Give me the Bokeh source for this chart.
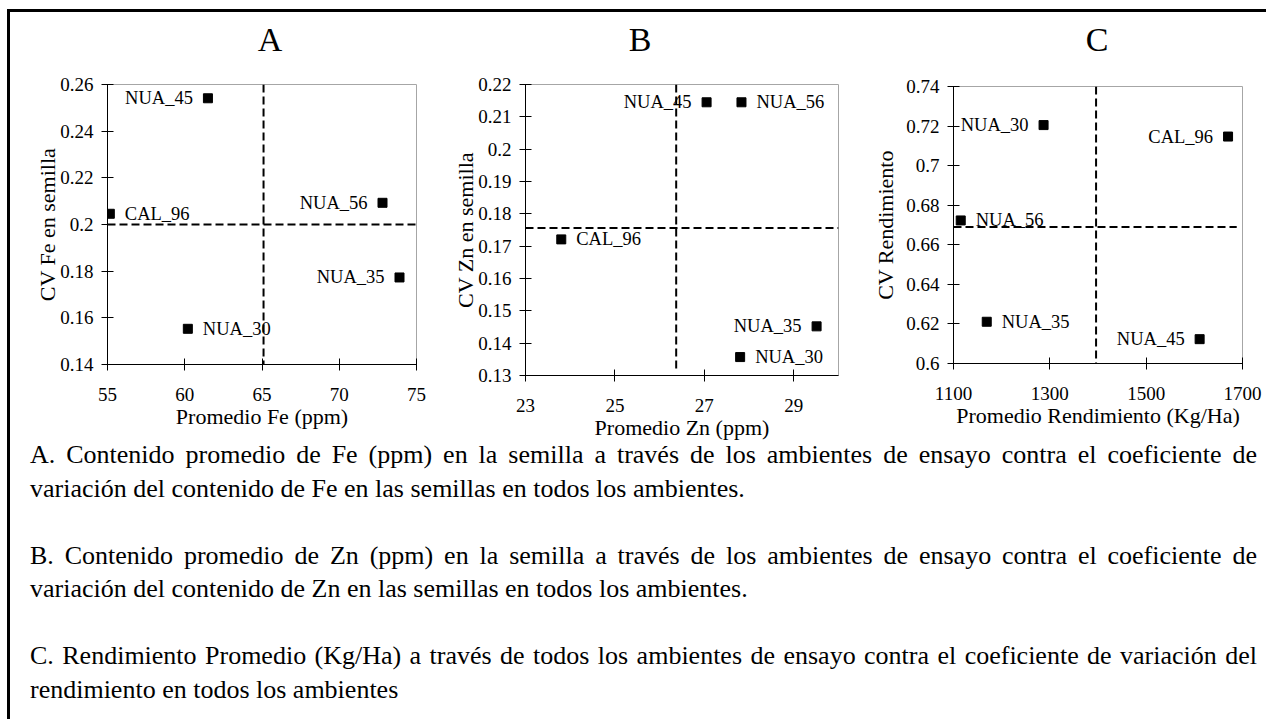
from bokeh.plotting import figure
from bokeh.models import Range1d, FixedTicker, Div, Spacer, ColumnDataSource
from bokeh.layouts import row, column
from bokeh.core.properties import value
from bokeh.embed import file_html
from bokeh.resources import INLINE

# ---- Panel A: hierro en semilla ----
genotipos_a = ["NUA_45", "CAL_96", "NUA_56", "NUA_35", "NUA_30"]
fe_promedio = [61.5, 55.15, 72.8, 73.9, 60.2]
fe_cv = [0.2541, 0.2046, 0.2093, 0.1773, 0.1553]
fe_ref_x = 65.1
fe_ref_y = 0.200
fe_xticks = [55, 60, 65, 70, 75]
fe_xlabels = ["55", "60", "65", "70", "75"]
fe_yticks = [0.14, 0.16, 0.18, 0.2, 0.22, 0.24, 0.26]
fe_ylabels = ["0.14", "0.16", "0.18", "0.2", "0.22", "0.24", "0.26"]

# ---- Panel B: zinc en semilla ----
genotipos_b = ["NUA_45", "NUA_56", "CAL_96", "NUA_35", "NUA_30"]
zn_promedio = [27.05, 27.83, 23.8, 29.51, 27.8]
zn_cv = [0.2145, 0.2145, 0.1721, 0.1452, 0.1357]
zn_ref_x = 26.37
zn_ref_y = 0.1756
zn_xticks = [23, 25, 27, 29]
zn_xlabels = ["23", "25", "27", "29"]
zn_yticks = [0.13, 0.14, 0.15, 0.16, 0.17, 0.18, 0.19, 0.2, 0.21, 0.22]
zn_ylabels = ["0.13", "0.14", "0.15", "0.16", "0.17", "0.18", "0.19", "0.2", "0.21", "0.22"]

# ---- Panel C: rendimiento ----
genotipos_c = ["NUA_30", "CAL_96", "NUA_56", "NUA_35", "NUA_45"]
rend_promedio = [1287, 1670, 1115, 1169, 1611]
rend_cv = [0.7205, 0.7147, 0.6723, 0.6211, 0.6123]
rend_ref_x = 1396
rend_ref_y = 0.669
rend_xticks = [1100, 1300, 1500, 1700]
rend_xlabels = ["1100", "1300", "1500", "1700"]
rend_yticks = [0.6, 0.62, 0.64, 0.66, 0.68, 0.7, 0.72, 0.74]
rend_ylabels = ["0.6", "0.62", "0.64", "0.66", "0.68", "0.7", "0.72", "0.74"]

# which side of its marker each label sits on
lado_a = ["left", "right", "left", "left", "right"]
lado_b = ["left", "right", "right", "left", "right"]
lado_c = ["left", "left", "right", "right", "left"]

letras = ["A", "B", "C"]

leyendas = [
    "A. Contenido promedio de Fe (ppm) en la semilla a través de los ambientes de ensayo "
    "contra el coeficiente de variación del contenido de Fe en las semillas en todos los ambientes.",
    "B. Contenido promedio de Zn (ppm) en la semilla a través de los ambientes de ensayo "
    "contra el coeficiente de variación del contenido de Zn en las semillas en todos los ambientes.",
    "C. Rendimiento Promedio (Kg/Ha) a través de todos los ambientes de ensayo contra el "
    "coeficiente de variación del rendimiento en todos los ambientes",
]

SERIF = "Liberation Serif"
HEADER_H = 60      # strip holding the panel letters
FIG_H = 400        # panels run under the caption block a little
CAPTION_LIFT = 36  # caption starts this many px above the panels' bottom edge


def panel(xs, ys, names, sides, xr, yr, xticks, xlabels,
          yticks, ylabels, ref_x, ref_y, vline_y0, hline_x1, xtitle, ytitle,
          width, borders, ylabel_standoff):
    left, right, top, bottom = borders
    p = figure(width=width, height=FIG_H, x_range=Range1d(*xr), y_range=Range1d(*yr),
               title=None, output_backend="svg", toolbar_location=None,
               min_border_left=left, min_border_right=right,
               min_border_top=top, min_border_bottom=bottom, margin=0,
               frame_align=False)

    p.grid.visible = False
    p.outline_line_color = "#a6a6a6"
    p.outline_line_width = 1
    p.background_fill_color = "white"
    p.border_fill_color = None

    p.xaxis.ticker = FixedTicker(ticks=xticks)
    p.xaxis.major_label_overrides = dict(zip(xticks, xlabels))
    p.yaxis.ticker = FixedTicker(ticks=yticks)
    p.yaxis.major_label_overrides = dict(zip(yticks, ylabels))
    p.xaxis.axis_label = xtitle
    p.yaxis.axis_label = ytitle
    for ax in (p.xaxis, p.yaxis):
        ax.axis_line_color = "black"
        ax.major_tick_line_color = "black"
        ax.major_tick_in = 6
        ax.major_tick_out = 6
        ax.minor_tick_line_color = None
        ax.major_label_text_font = SERIF
        ax.major_label_text_font_size = "19px"
        ax.major_label_text_color = "black"
        ax.axis_label_text_font = SERIF
        ax.axis_label_text_font_size = "22px"
        ax.axis_label_text_font_style = "normal"
        ax.axis_label_text_color = "black"
    p.xaxis.major_label_standoff = 17
    p.xaxis.axis_label_standoff = 0
    p.yaxis.major_label_standoff = 8
    p.yaxis.axis_label_standoff = ylabel_standoff

    # reference (average) lines
    p.line([ref_x, ref_x], [yr[1], vline_y0], line_color="black", line_width=2,
           line_dash="8 4")
    p.line([xr[0], hline_x1], [ref_y, ref_y], line_color="black", line_width=2,
           line_dash="8 4")

    p.scatter(xs, ys, marker="square", size=9, color="black")

    for side, off in (("left", -15), ("right", 15)):
        idx = [i for i, s in enumerate(sides) if s == side]
        src = ColumnDataSource(dict(x=[xs[i] for i in idx], y=[ys[i] for i in idx],
                                    t=[names[i] for i in idx]))
        p.text("x", "y", text="t", source=src, x_offset=off,
               text_align="right" if side == "left" else "left",
               text_baseline="middle", text_font=value(SERIF),
               text_font_size="18.5px", text_color="black")
    return p


pa = panel(fe_promedio, fe_cv, genotipos_a, lado_a, (55, 75), (0.14, 0.26),
           fe_xticks, fe_xlabels, fe_yticks, fe_ylabels, fe_ref_x, fe_ref_y,
           0.139, 75, "Promedio Fe (ppm)", "CV Fe en semilla",
           435, (97, 29, 12, FIG_H - 280 - 12), -3)
pb = panel(zn_promedio, zn_cv, genotipos_b, lado_b, (23, 30), (0.13, 0.22),
           zn_xticks, zn_xlabels, zn_yticks, zn_ylabels, zn_ref_x, zn_ref_y,
           0.1315, 30, "Promedio Zn (ppm)", "CV Zn en semilla",
           413, (80, 20, 12, FIG_H - 291 - 12), -3)
pc = panel(rend_promedio, rend_cv, genotipos_c, lado_c, (1100, 1700), (0.6, 0.74),
           rend_xticks, rend_xlabels, rend_yticks, rend_ylabels, rend_ref_x, rend_ref_y,
           0.6, 1688, "Promedio Rendimiento (Kg/Ha)", "CV Rendimiento",
           408, (95, 24, 14, FIG_H - 277 - 14), 5)

# panel letters, centred over each chart
letter_centres = [260, 630, 1087]
spans = "".join(
    f'<span style="position:absolute;left:{cx}px;top:11px;transform:translateX(-50%);'
    f'line-height:1;">{t}</span>'
    for t, cx in zip(letras, letter_centres)
)
header = Div(
    text=(f'<div style="position:relative;width:1256px;height:{HEADER_H}px;'
          f'font-family:\'{SERIF}\';font-size:34px;color:black;">{spans}</div>'),
    width=1256, height=HEADER_H, margin=0,
)

parrafos = "".join(
    f'<p style="margin:0 0 33.5px 0;text-align:justify;text-align-last:left;">{t}</p>'
    for t in leyendas
)
caption = Div(
    text=(f'<div style="font-family:\'{SERIF}\';font-size:26px;line-height:33.5px;'
          f'color:black;box-sizing:content-box;width:1227px;padding:2px 0 0 20px;">'
          f'{parrafos}</div>'),
    width=1256, height=283, margin=(-CAPTION_LIFT, 0, 0, 0),
)

black = {"background-color": "black"}
top_bar = Div(text="", width=1259, height=3, styles=black, margin=0)
left_bar = Div(text="", width=3, height=707, styles=black, margin=0)

content = column(header, row(pa, pb, pc, spacing=0), caption, spacing=0)
layout = column(
    Spacer(width=1266, height=9, margin=0),
    row(Spacer(width=7, height=710, margin=0),
        column(top_bar, row(left_bar, content, spacing=0), spacing=0), spacing=0),
    spacing=0,
)

open("out.html", "w").write(file_html(layout, INLINE))
